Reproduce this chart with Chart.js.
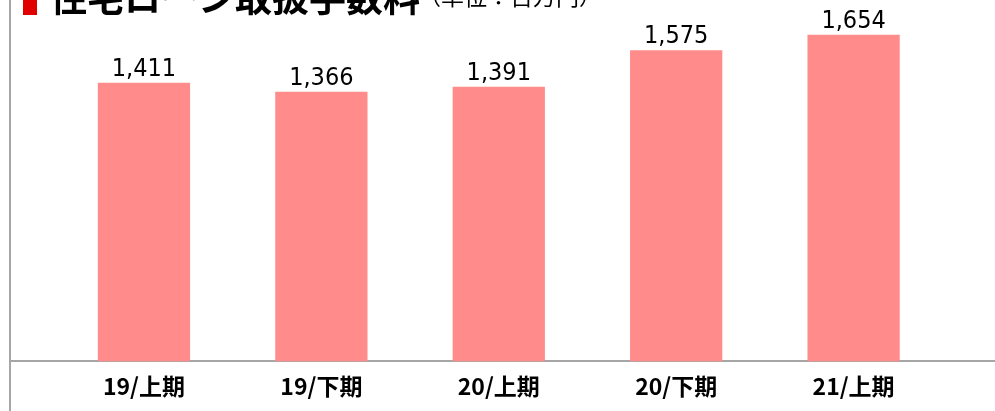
<!DOCTYPE html>
<html>
<head>
<meta charset="utf-8">
<script src="https://cdn.jsdelivr.net/npm/chart.js@4"></script>
<style>
  html, body { margin: 0; padding: 0; background: #fff; }
  #wrap { width: 995px; height: 411px; position: relative; }
</style>
</head>
<body>
<div id="wrap"><canvas id="chart_fees"></canvas></div>
<script>
// data (単位：百万円)
var categories = ['19/上期', '19/下期', '20/上期', '20/下期', '21/上期'];
var feeValues = [1411, 1366, 1391, 1575, 1654];
var titleText = '住宅ローン取扱手数料';
var unitText = '（単位：百万円）';

var positions = categories.map(function (c, i) { return i; });

var chart_fees = new Chart(document.getElementById('chart_fees'), {
    type: 'bar',
    data: {
        datasets: [
            {
                label: titleText,
                data: positions.map(function (p) { return { x: p, y: feeValues[p] }; }),
                backgroundColor: '#FF8B8B',
                borderWidth: 0,
                barPercentage: 0.52,
                categoryPercentage: 1.0
            }
        ]
    },
    options: {
        animation: false,
        responsive: true,
        maintainAspectRatio: false,
        layout: {
            padding: { left: 10, right: 0, top: 0, bottom: 0 }
        },
        plugins: {
            legend: { display: false },
            title: { display: false },
            tooltip: { enabled: false }
        },
        scales: {
            x: {
                type: 'linear',
                offset: false,
                min: -0.755,
                max: 4.797,
                grid: { display: false, drawTicks: false },
                border: { display: true, color: '#a6a6a6', width: 2 },
                afterBuildTicks: function (scale) {
                    scale.ticks = positions.map(function (p) { return { value: p }; });
                },
                ticks: {
                    padding: 11,
                    color: '#000',
                    autoSkip: false,
                    maxRotation: 0,
                    font: { family: '"Noto Sans CJK JP", sans-serif', size: 23, weight: 'bold' },
                    callback: function (value) { return categories[value]; }
                }
            },
            y: {
                display: false,
                min: 0,
                max: 1830
            }
        }
    },
    plugins: [{
        id: 'customPlugin',
        beforeDraw: (chart) => {
            const ctx = chart.ctx;
            ctx.save();
            ctx.fillStyle = 'white';
            ctx.fillRect(0, 0, chart.width, chart.height);
            ctx.restore();
        },
        afterDatasetsDraw: (chart) => {
            const ctx = chart.ctx;
            const area = chart.chartArea;
            ctx.save();
            // left frame line runs the full height
            ctx.strokeStyle = '#a6a6a6';
            ctx.lineWidth = 2;
            ctx.beginPath();
            ctx.moveTo(area.left, 0);
            ctx.lineTo(area.left, chart.height);
            ctx.stroke();

            // value labels
            ctx.fillStyle = '#000';
            ctx.textAlign = 'center';
            ctx.textBaseline = 'alphabetic';
            ctx.font = '25px "Liberation Sans Narrow", "DejaVu Sans Condensed", sans-serif';
            chart.getDatasetMeta(0).data.forEach(function (bar, i) {
                ctx.fillText(feeValues[i].toLocaleString('en-US'), bar.x, bar.y - 7);
            });

            // heading, clipped by the top edge
            ctx.fillStyle = '#e00000';
            ctx.fillRect(area.left + 13, -5, 14, 20);
            ctx.fillStyle = '#000';
            ctx.textAlign = 'left';
            ctx.font = 'bold 37px "Noto Sans CJK JP", sans-serif';
            ctx.fillText(titleText, area.left + 40, 12);
            ctx.font = '23px "Noto Sans CJK JP", sans-serif';
            ctx.fillText(unitText, area.left + 408, 4.5);
            ctx.restore();
        }
    }]
});
</script>
</body>
</html>
